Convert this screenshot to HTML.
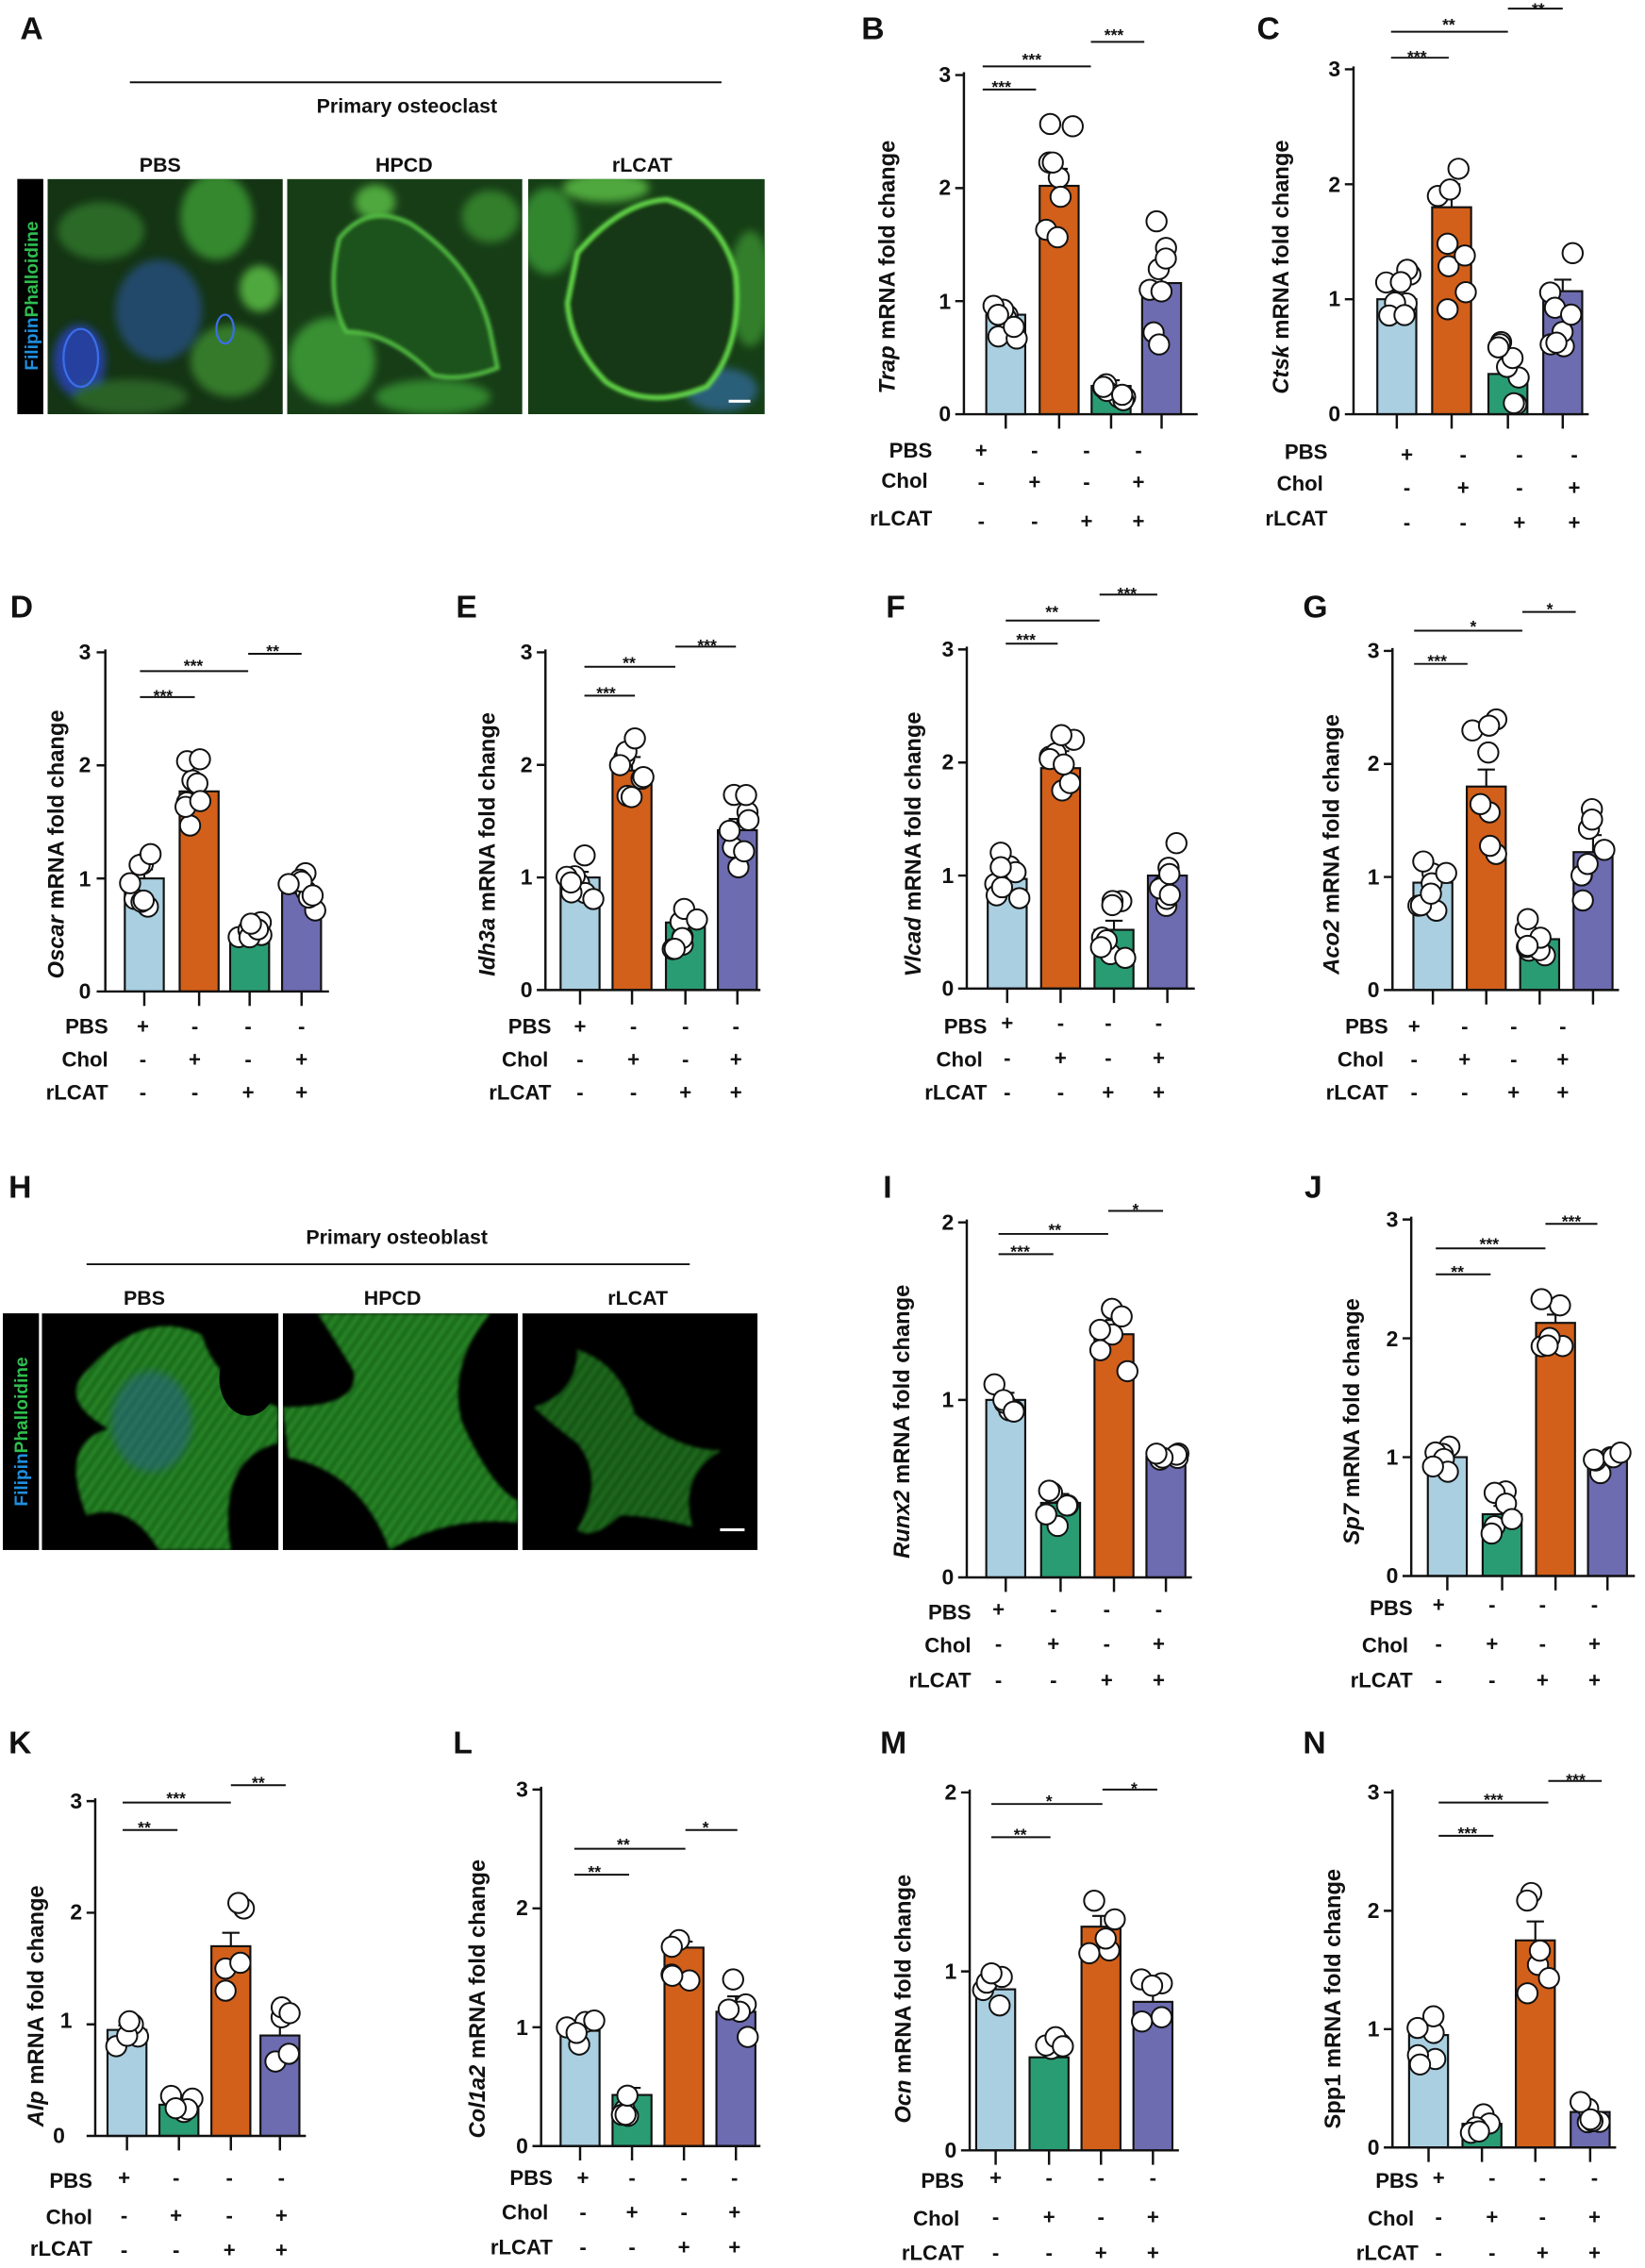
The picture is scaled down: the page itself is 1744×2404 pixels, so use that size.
<!DOCTYPE html>
<html><head><meta charset="utf-8"><style>
html,body{margin:0;padding:0;background:#fff}
svg{display:block}
text{font-family:"Liberation Sans",Arial,sans-serif;font-weight:bold;fill:#111}
.t{font-size:15px}
.s{font-size:14.5px}
.st{font-size:11.5px}
.ti{font-size:15.5px}
.L{font-size:22px}
.hd{font-size:14px}
</style></head><body>
<svg id="S" width="1744" height="2404" viewBox="0 0 1140 1571.5" preserveAspectRatio="none" xmlns="http://www.w3.org/2000/svg">
<defs>
<filter id="bl" x="-20%" y="-20%" width="140%" height="140%"><feGaussianBlur stdDeviation="3"/></filter>
<filter id="bl2"><feGaussianBlur stdDeviation="1.2"/></filter>
<pattern id="fib" width="6" height="6" patternUnits="userSpaceOnUse" patternTransform="rotate(35)"><rect width="6" height="6" fill="#1d6e1f"/><line x1="0" y1="0" x2="0" y2="6" stroke="#3fb83a" stroke-width="1.2"/></pattern>
<clipPath id="c1"><rect x="33" y="124" width="163" height="163"/></clipPath>
<clipPath id="c2"><rect x="199" y="124" width="163" height="163"/></clipPath>
<clipPath id="c3"><rect x="366" y="124" width="164" height="163"/></clipPath>
<clipPath id="c4"><rect x="29" y="910" width="164" height="164"/></clipPath>
<clipPath id="c5"><rect x="196" y="910" width="163" height="164"/></clipPath>
<clipPath id="c6"><rect x="362" y="910" width="163" height="164"/></clipPath>
</defs>

<!-- Panel A images -->
<rect x="12" y="124" width="18" height="163" fill="#000"/>
<text transform="rotate(-90 26 205)" x="26" y="205" text-anchor="middle" style="font-size:12.5px"><tspan style="fill:#1e90e0">Filipin</tspan><tspan style="fill:#2fbf4f">Phalloidine</tspan></text>
<g clip-path="url(#c1)">
<rect x="33" y="124" width="163" height="163" fill="#143414"/>
<g filter="url(#bl)">
<ellipse cx="70" cy="160" rx="30" ry="20" fill="#2a6a26"/>
<ellipse cx="150" cy="150" rx="25" ry="30" fill="#35882d"/>
<ellipse cx="180" cy="200" rx="14" ry="16" fill="#4fa83c"/>
<ellipse cx="110" cy="215" rx="30" ry="35" fill="#22486a"/>
<ellipse cx="55" cy="250" rx="18" ry="25" fill="#2640a0"/>
<ellipse cx="160" cy="250" rx="28" ry="25" fill="#357a2a"/>
<ellipse cx="90" cy="275" rx="40" ry="12" fill="#2a6226"/>
</g>
<ellipse cx="156" cy="228" rx="6" ry="10" fill="none" stroke="#3a6ee8" stroke-width="1.5"/>
<ellipse cx="56" cy="248" rx="12" ry="20" fill="none" stroke="#3a6ee8" stroke-width="1.5"/>
</g>
<g clip-path="url(#c2)">
<rect x="199" y="124" width="163" height="163" fill="#173d17"/>
<g filter="url(#bl)">
<ellipse cx="230" cy="250" rx="30" ry="30" fill="#379030"/>
<ellipse cx="340" cy="150" rx="20" ry="18" fill="#327e2a"/>
<ellipse cx="260" cy="140" rx="14" ry="12" fill="#4fa83c"/>
<ellipse cx="300" cy="275" rx="40" ry="12" fill="#32862e"/>
</g>
<path d="M235 165 Q255 140 285 155 Q330 185 340 230 L345 255 Q320 265 300 260 Q270 230 240 230 Q225 205 235 165Z" fill="#1f521c" stroke="#55c244" stroke-width="2.5" filter="url(#bl2)"/>
</g>
<g clip-path="url(#c3)">
<rect x="366" y="124" width="164" height="163" fill="#163e16"/>
<g filter="url(#bl)">
<ellipse cx="380" cy="160" rx="20" ry="30" fill="#32862e"/>
<ellipse cx="520" cy="200" rx="15" ry="40" fill="#327e2a"/>
<ellipse cx="420" cy="130" rx="30" ry="10" fill="#4fa83c"/>
<ellipse cx="500" cy="270" rx="25" ry="15" fill="#2a5e7a"/>
</g>
<path d="M400 175 Q430 140 462 138 Q500 150 510 190 Q515 240 490 268 Q450 285 420 265 Q395 240 393 210Z" fill="#143814" stroke="#66dd4c" stroke-width="3" filter="url(#bl2)"/>
<rect x="505" y="277" width="15" height="2" fill="#fff"/>
</g>
<line x1="90" y1="57" x2="500" y2="57" stroke="#111" stroke-width="1.3"/>
<text class="hd" x="282" y="78" text-anchor="middle">Primary osteoclast</text>
<text class="hd" x="111" y="119" text-anchor="middle">PBS</text>
<text class="hd" x="280" y="119" text-anchor="middle">HPCD</text>
<text class="hd" x="445" y="119" text-anchor="middle">rLCAT</text>

<!-- Panel H images -->
<rect x="2" y="910" width="25" height="164" fill="#000"/>
<text transform="rotate(-90 19 992)" x="19" y="992" text-anchor="middle" style="font-size:12.5px"><tspan style="fill:#1e90e0">Filipin</tspan><tspan style="fill:#2fbf4f">Phalloidine</tspan></text>
<g clip-path="url(#c4)">
<rect x="29" y="910" width="164" height="164" fill="#000"/>
<path d="M60 950 Q100 905 140 925 Q150 960 193 975 L193 1000 Q150 1010 160 1074 L110 1074 Q90 1040 60 1050 Q40 1000 75 990 Q40 970 60 950Z" fill="url(#fib)" filter="url(#bl2)"/>
<ellipse cx="105" cy="985" rx="28" ry="35" fill="#2b5fa0" opacity="0.45" filter="url(#bl)"/>
<ellipse cx="172" cy="955" rx="20" ry="26" fill="#000"/>
</g>
<g clip-path="url(#c5)">
<rect x="196" y="910" width="163" height="164" fill="#000"/>
<path d="M220 910 L340 910 Q310 945 320 985 Q340 1030 359 1040 L359 1055 Q310 1050 270 1074 Q250 1020 200 1010 L196 975 Q250 975 245 950 Q230 925 220 910Z" fill="url(#fib)" filter="url(#bl2)"/>
</g>
<g clip-path="url(#c6)">
<rect x="362" y="910" width="163" height="164" fill="#000"/>
<path d="M400 935 Q430 945 440 980 Q470 1005 500 1005 Q470 1022 480 1058 Q450 1050 430 1050 Q410 1068 400 1060 Q420 1025 400 1000 Q380 985 370 975 Q400 965 400 935Z" fill="url(#fib)" opacity="0.8" filter="url(#bl2)"/>
<rect x="499" y="1059" width="17" height="2" fill="#fff"/>
</g>
<line x1="60" y1="876" x2="478" y2="876" stroke="#111" stroke-width="1.3"/>
<text class="hd" x="275" y="862" text-anchor="middle">Primary osteoblast</text>
<text class="hd" x="100" y="904" text-anchor="middle">PBS</text>
<text class="hd" x="272" y="904" text-anchor="middle">HPCD</text>
<text class="hd" x="442" y="904" text-anchor="middle">rLCAT</text>

<!-- panel letters -->
<text class="L" x="14" y="27">A</text>
<text class="L" x="597" y="27">B</text>
<text class="L" x="871" y="27">C</text>
<text class="L" x="7" y="428">D</text>
<text class="L" x="316" y="428">E</text>
<text class="L" x="614" y="428">F</text>
<text class="L" x="903" y="428">G</text>
<text class="L" x="6" y="830">H</text>
<text class="L" x="612" y="830">I</text>
<text class="L" x="904" y="830">J</text>
<text class="L" x="6" y="1215">K</text>
<text class="L" x="314" y="1215">L</text>
<text class="L" x="610" y="1215">M</text>
<text class="L" x="903" y="1215">N</text>

<g id="G"></g>

<!-- tick labels -->
<text class="t" text-anchor="end" x="659 659 659 659" y="292 214 135 57">0123</text>
<text class="t" text-anchor="end" x="929 929 929 929" y="292 212 133 53">0123</text>
<text class="t" text-anchor="end" x="63 63 63 63" y="692 614 535 457">0123</text>
<text class="t" text-anchor="end" x="369 369 369 369" y="691 613 535 457">0123</text>
<text class="t" text-anchor="end" x="661 661 661 661" y="690 612 533 455">0123</text>
<text class="t" text-anchor="end" x="956 956 956 956" y="691 613 534 456">0123</text>
<text class="t" text-anchor="end" x="661 661 661" y="1098 975 852">012</text>
<text class="t" text-anchor="end" x="969 969 969 969" y="1097 1015 933 850">0123</text>
<text class="t" text-anchor="end" x="45 50 57 57" y="1485 1405 1330 1253">0123</text>
<text class="t" text-anchor="end" x="366 366 366 366" y="1492 1410 1327 1245">0123</text>
<text class="t" text-anchor="end" x="663 663 663" y="1495 1371 1247">012</text>
<text class="t" text-anchor="end" x="956 956 956 956" y="1493 1411 1329 1247">0123</text>

<!-- axis titles -->
<text class="ti" transform="rotate(-90 620 185)" x="620" y="185" text-anchor="middle"><tspan font-style="italic">Trap</tspan> mRNA fold change</text>
<text class="ti" transform="rotate(-90 893 185)" x="893" y="185" text-anchor="middle"><tspan font-style="italic">Ctsk</tspan> mRNA fold change</text>
<text class="ti" transform="rotate(-90 44 585)" x="44" y="585" text-anchor="middle"><tspan font-style="italic">Oscar</tspan> mRNA fold change</text>
<text class="ti" transform="rotate(-90 343 585)" x="343" y="585" text-anchor="middle"><tspan font-style="italic">Idh3a</tspan> mRNA fold change</text>
<text class="ti" transform="rotate(-90 638 585)" x="638" y="585" text-anchor="middle"><tspan font-style="italic">Vlcad</tspan> mRNA fold change</text>
<text class="ti" transform="rotate(-90 928 585)" x="928" y="585" text-anchor="middle"><tspan font-style="italic">Aco2</tspan> mRNA fold change</text>
<text class="ti" transform="rotate(-90 630 985)" x="630" y="985" text-anchor="middle"><tspan font-style="italic">Runx2</tspan> mRNA fold change</text>
<text class="ti" transform="rotate(-90 942 985)" x="942" y="985" text-anchor="middle"><tspan font-style="italic">Sp7</tspan> mRNA fold change</text>
<text class="ti" transform="rotate(-90 30 1390)" x="30" y="1390" text-anchor="middle"><tspan font-style="italic">Alp</tspan> mRNA fold change</text>
<text class="ti" transform="rotate(-90 336 1385)" x="336" y="1385" text-anchor="middle"><tspan font-style="italic">Col1a2</tspan> mRNA fold change</text>
<text class="ti" transform="rotate(-90 631 1385)" x="631" y="1385" text-anchor="middle"><tspan font-style="italic">Ocn</tspan> mRNA fold change</text>
<text class="ti" transform="rotate(-90 929 1385)" x="929" y="1385" text-anchor="middle">Spp1 mRNA fold change</text>

<!-- condition labels -->
<g class="s">
<text class="s" x="646" y="317" text-anchor="end">PBS</text><text class="s" x="643" y="338" text-anchor="end">Chol</text><text class="s" x="646" y="364" text-anchor="end">rLCAT</text>
<text class="s" text-anchor="middle" x="680 717 753 789" y="317">+---</text>
<text class="s" text-anchor="middle" x="680 717 753 789" y="339">-+-+</text>
<text class="s" text-anchor="middle" x="680 717 753 789" y="366">--++</text>

<text class="s" x="920" y="318" text-anchor="end">PBS</text><text class="s" x="917" y="340" text-anchor="end">Chol</text><text class="s" x="920" y="364" text-anchor="end">rLCAT</text>
<text class="s" text-anchor="middle" x="975 1014 1053 1091" y="320">+---</text>
<text class="s" text-anchor="middle" x="975 1014 1053 1091" y="343">-+-+</text>
<text class="s" text-anchor="middle" x="975 1014 1053 1091" y="367">--++</text>

<text class="s" x="75" y="716" text-anchor="end">PBS</text><text class="s" x="75" y="739" text-anchor="end">Chol</text><text class="s" x="75" y="762" text-anchor="end">rLCAT</text>
<text class="s" text-anchor="middle" x="99 135 172 209" y="716">+---</text>
<text class="s" text-anchor="middle" x="99 135 172 209" y="739">-+-+</text>
<text class="s" text-anchor="middle" x="99 135 172 209" y="762">--++</text>

<text class="s" x="382" y="716" text-anchor="end">PBS</text><text class="s" x="380" y="739" text-anchor="end">Chol</text><text class="s" x="382" y="762" text-anchor="end">rLCAT</text>
<text class="s" text-anchor="middle" x="402 439 475 510" y="716">+---</text>
<text class="s" text-anchor="middle" x="402 439 475 510" y="739">-+-+</text>
<text class="s" text-anchor="middle" x="402 439 475 510" y="762">--++</text>

<text class="s" x="684" y="716" text-anchor="end">PBS</text><text class="s" x="681" y="739" text-anchor="end">Chol</text><text class="s" x="684" y="762" text-anchor="end">rLCAT</text>
<text class="s" text-anchor="middle" x="698 735 768 803" y="714">+---</text>
<text class="s" text-anchor="middle" x="698 735 768 803" y="738">-+-+</text>
<text class="s" text-anchor="middle" x="698 735 768 803" y="762">--++</text>

<text class="s" x="962" y="716" text-anchor="end">PBS</text><text class="s" x="959" y="739" text-anchor="end">Chol</text><text class="s" x="962" y="762" text-anchor="end">rLCAT</text>
<text class="s" text-anchor="middle" x="980 1015 1049 1083" y="716">+---</text>
<text class="s" text-anchor="middle" x="980 1015 1049 1083" y="739">-+-+</text>
<text class="s" text-anchor="middle" x="980 1015 1049 1083" y="762">--++</text>

<text class="s" x="673" y="1122" text-anchor="end">PBS</text><text class="s" x="673" y="1145" text-anchor="end">Chol</text><text class="s" x="673" y="1169" text-anchor="end">rLCAT</text>
<text class="s" text-anchor="middle" x="692 730 767 803" y="1120">+---</text>
<text class="s" text-anchor="middle" x="692 730 767 803" y="1144">-+-+</text>
<text class="s" text-anchor="middle" x="692 730 767 803" y="1169">--++</text>

<text class="s" x="979" y="1119" text-anchor="end">PBS</text><text class="s" x="976" y="1145" text-anchor="end">Chol</text><text class="s" x="979" y="1169" text-anchor="end">rLCAT</text>
<text class="s" text-anchor="middle" x="997 1034 1069 1105" y="1117">+---</text>
<text class="s" text-anchor="middle" x="997 1034 1069 1105" y="1144">-+-+</text>
<text class="s" text-anchor="middle" x="997 1034 1069 1105" y="1169">--++</text>

<text class="s" x="64" y="1516" text-anchor="end">PBS</text><text class="s" x="64" y="1541" text-anchor="end">Chol</text><text class="s" x="64" y="1563" text-anchor="end">rLCAT</text>
<text class="s" text-anchor="middle" x="86 122 159 195" y="1514">+---</text>
<text class="s" text-anchor="middle" x="86 122 159 195" y="1540">-+-+</text>
<text class="s" text-anchor="middle" x="86 122 159 195" y="1564">--++</text>

<text class="s" x="383" y="1514" text-anchor="end">PBS</text><text class="s" x="380" y="1538" text-anchor="end">Chol</text><text class="s" x="383" y="1562" text-anchor="end">rLCAT</text>
<text class="s" text-anchor="middle" x="404 438 474 509" y="1514">+---</text>
<text class="s" text-anchor="middle" x="404 438 474 509" y="1538">-+-+</text>
<text class="s" text-anchor="middle" x="404 438 474 509" y="1562">--++</text>

<text class="s" x="668" y="1516" text-anchor="end">PBS</text><text class="s" x="665" y="1542" text-anchor="end">Chol</text><text class="s" x="668" y="1566" text-anchor="end">rLCAT</text>
<text class="s" text-anchor="middle" x="690 727 763 799" y="1514">+---</text>
<text class="s" text-anchor="middle" x="690 727 763 799" y="1541">-+-+</text>
<text class="s" text-anchor="middle" x="690 727 763 799" y="1566">--++</text>

<text class="s" x="983" y="1516" text-anchor="end">PBS</text><text class="s" x="980" y="1542" text-anchor="end">Chol</text><text class="s" x="983" y="1566" text-anchor="end">rLCAT</text>
<text class="s" text-anchor="middle" x="997 1034 1069 1105" y="1514">+---</text>
<text class="s" text-anchor="middle" x="997 1034 1069 1105" y="1541">-+-+</text>
<text class="s" text-anchor="middle" x="997 1034 1069 1105" y="1566">--++</text>
</g>

<!-- significance stars -->
<g class="st" text-anchor="middle">
<text class="st" x="694" y="64">***</text><text class="st" x="715" y="45">***</text><text class="st" x="772" y="28">***</text>
<text class="st" x="982" y="43">***</text><text class="st" x="1004" y="21">**</text><text class="st" x="1066" y="10">**</text>
<text class="st" x="113" y="486">***</text><text class="st" x="134" y="465">***</text><text class="st" x="189" y="455">**</text>
<text class="st" x="420" y="484">***</text><text class="st" x="436" y="463">**</text><text class="st" x="490" y="451">***</text>
<text class="st" x="711" y="447">***</text><text class="st" x="729" y="428">**</text><text class="st" x="781" y="415">***</text>
<text class="st" x="996" y="462">***</text><text class="st" x="1021" y="438">*</text><text class="st" x="1074" y="426">*</text>
<text class="st" x="707" y="871">***</text><text class="st" x="731" y="856">**</text><text class="st" x="787" y="842">*</text>
<text class="st" x="1010" y="885">**</text><text class="st" x="1032" y="866">***</text><text class="st" x="1089" y="850">***</text>
<text class="st" x="100" y="1270">**</text><text class="st" x="122" y="1250">***</text><text class="st" x="179" y="1239">**</text>
<text class="st" x="412" y="1301">**</text><text class="st" x="432" y="1282">**</text><text class="st" x="489" y="1270">*</text>
<text class="st" x="707" y="1275">**</text><text class="st" x="727" y="1252">*</text><text class="st" x="786" y="1243">*</text>
<text class="st" x="1017" y="1274">***</text><text class="st" x="1035" y="1251">***</text><text class="st" x="1092" y="1237">***</text>
</g>
</svg>
<script>
var B='#a9cfe0',O='#d2601a',Gr='#2a9c74',Pu='#6d6cb1';
var P=[
{ax:668,y0:287,yt:52,m:3,xs:[697,734,770,805],xe:830,v:[0.88,2.02,0.25,1.16],e:[.06,.15,.05,.14],c:[B,O,Gr,Pu],n:8,sp:[.25,.6,.15,.6],sig:[[681,718,62],[681,756,46],[756,793,29]]},
{ax:938,y0:287,yt:48,m:3,xs:[968,1006,1045,1083],xe:1101,v:[1.0,1.8,0.35,1.07],e:[.07,.2,.1,.1],c:[B,O,Gr,Pu],n:8,sp:[.3,.9,.35,.5],sig:[[964,1004,40],[964,1045,22],[1045,1083,6]]},
{ax:73,y0:687,yt:452,m:3,xs:[100,138,173,209],xe:228,v:[1.0,1.77,0.5,0.87],e:[.08,.1,.04,.05],c:[B,O,Gr,Pu],n:8,sp:[.25,.35,.12,.18],sig:[[97,135,483],[97,172,465],[172,209,453]]},
{ax:378,y0:686,yt:452,m:3,xs:[402,438,475,511],xe:527,v:[1.0,1.95,0.6,1.42],e:[.05,.12,.08,.1],c:[B,O,Gr,Pu],n:8,sp:[.2,.35,.25,.35],sig:[[405,440,482],[405,468,462],[468,510,448]]},
{ax:670,y0:685,yt:450,m:3,xs:[698,735,772,809],xe:828,v:[0.97,1.95,0.52,1.0],e:[.08,.15,.08,.1],c:[B,O,Gr,Pu],n:8,sp:[.25,.6,.3,.3],sig:[[697,733,446],[697,762,430],[762,802,412]]},
{ax:965,y0:686,yt:451,m:3,xs:[993,1030,1067,1104],xe:1122,v:[0.95,1.8,0.45,1.22],e:[.07,.15,.06,.15],c:[B,O,Gr,Pu],n:8,sp:[.25,.6,.2,.6],sig:[[980,1017,460],[980,1055,437],[1055,1092,424]]},
{ax:670,y0:1093,yt:847,m:2,xs:[697,735,772,808],xe:826,v:[1.0,0.42,1.37,0.68],e:[.04,.05,.08,.02],c:[B,Gr,O,Pu],n:6,sp:[.12,.15,.25,.03],sig:[[692,730,869],[692,768,855],[768,806,839]]},
{ax:978,y0:1092,yt:845,m:3,xs:[1003,1041,1078,1114],xe:1133,v:[1.0,0.52,2.13,0.98],e:[.05,.07,.07,.05],c:[B,Gr,O,Pu],n:6,sp:[.15,.2,.2,.15],sig:[[995,1033,883],[995,1071,865],[1071,1107,848]]},
{ax:66,y0:1480,yt:1248,m:3,xs:[88,124,160,194],xe:212,v:[0.95,0.28,1.7,0.9],e:[.04,.04,.12,.13],c:[B,Gr,O,Pu],n:5,sp:[.15,.1,.4,.4],sig:[[85,123,1268],[85,160,1249],[160,198,1237]]},
{ax:375,y0:1487,yt:1240,m:3,xs:[402,438,474,510],xe:527,v:[0.97,0.43,1.67,1.13],e:[.05,.06,.05,.13],c:[B,Gr,O,Pu],n:5,sp:[.15,.25,.35,.3],sig:[[398,436,1299],[398,475,1281],[475,511,1268]]},
{ax:672,y0:1490,yt:1242,m:2,xs:[690,727,763,799],xe:817,v:[0.9,0.52,1.25,0.83],e:[.07,.06,.06,.08],c:[B,Gr,O,Pu],n:5,sp:[.12,.15,.15,.15],sig:[[687,728,1273],[687,764,1250],[764,802,1240]]},
{ax:965,y0:1488,yt:1242,m:3,xs:[990,1027,1064,1102],xe:1120,v:[0.95,0.2,1.75,0.3],e:[.08,.04,.16,.04],c:[B,Gr,O,Pu],n:6,sp:[.25,.1,.45,.1],sig:[[997,1035,1272],[997,1073,1249],[1073,1110,1234]]}
];
var s=7,h='';function r(){s=(s*9301+49297)%233280;return s/233280;}
P.forEach(function(p){
 var k=(p.y0-p.yt)/p.m,bw=27;
 p.xs.forEach(function(x,i){
  var y=p.y0-p.v[i]*k;
  h+='<rect x="'+(x-bw/2)+'" y="'+y+'" width="'+bw+'" height="'+(p.y0-y)+'" fill="'+p.c[i]+'" stroke="#111" stroke-width="1.4"/>';
  var ye=y-p.e[i]*k;
  h+='<path d="M'+x+' '+y+'V'+ye+'M'+(x-6)+' '+ye+'H'+(x+6)+'" stroke="#111" stroke-width="1.4" fill="none"/>';
 });
 p.xs.forEach(function(x,i){
  for(var j=0;j<p.n;j++){
   var v=p.v[i]+(r()-0.5)*2*p.sp[i];if(v<0.08)v=0.08+r()*0.1;
   var dx=(r()-0.5)*20;
   h+='<circle cx="'+(x+dx)+'" cy="'+(p.y0-v*k)+'" r="7" fill="#fff" stroke="#111" stroke-width="1.3"/>';
  }
 });
 h+='<path d="M'+p.ax+' '+p.y0+'V'+(p.yt-2)+'M'+(p.ax-4)+' '+p.y0+'H'+p.xe;
 for(var t=0;t<=p.m;t++){var yy=p.y0-t*k;h+='M'+(p.ax-6)+' '+yy+'H'+p.ax;}
 p.xs.forEach(function(x){h+='M'+x+' '+p.y0+'v10';});
 h+='" stroke="#111" stroke-width="1.6" fill="none"/>';
 p.sig.forEach(function(q){h+='<line x1="'+q[0]+'" x2="'+q[1]+'" y1="'+q[2]+'" y2="'+q[2]+'" stroke="#111" stroke-width="1.3"/>';});
});
document.getElementById('G').innerHTML=h;
</script>
</body></html>
